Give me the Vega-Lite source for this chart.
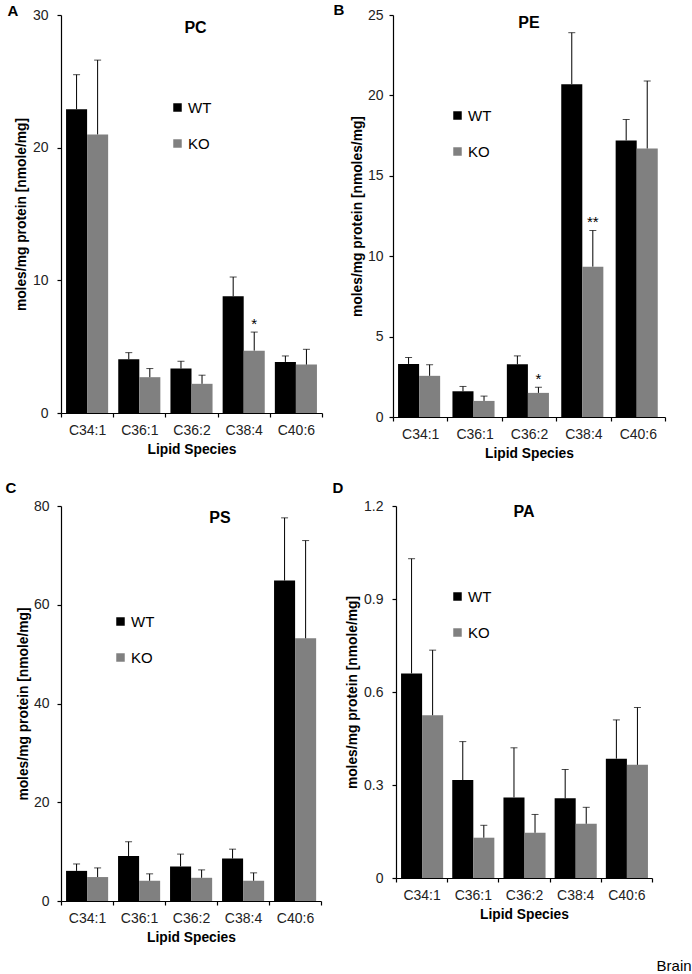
{
  "$schema": "https://vega.github.io/schema/vega-lite/v6.json",
  "background": "white",
  "padding": {"top": 3, "left": 5, "right": 0, "bottom": 0},
  "data": {"values": [
    {"panel": "PC", "species": "C34:1", "genotype": "WT", "value": 22.9, "err": 25.5, "sig": ""},
    {"panel": "PC", "species": "C34:1", "genotype": "KO", "value": 21.0, "err": 26.6, "sig": ""},
    {"panel": "PC", "species": "C36:1", "genotype": "WT", "value": 4.05, "err": 4.55, "sig": ""},
    {"panel": "PC", "species": "C36:1", "genotype": "KO", "value": 2.7, "err": 3.35, "sig": ""},
    {"panel": "PC", "species": "C36:2", "genotype": "WT", "value": 3.35, "err": 3.9, "sig": ""},
    {"panel": "PC", "species": "C36:2", "genotype": "KO", "value": 2.2, "err": 2.85, "sig": ""},
    {"panel": "PC", "species": "C38:4", "genotype": "WT", "value": 8.8, "err": 10.25, "sig": ""},
    {"panel": "PC", "species": "C38:4", "genotype": "KO", "value": 4.7, "err": 6.1, "sig": "*"},
    {"panel": "PC", "species": "C40:6", "genotype": "WT", "value": 3.85, "err": 4.3, "sig": ""},
    {"panel": "PC", "species": "C40:6", "genotype": "KO", "value": 3.65, "err": 4.8, "sig": ""},
    {"panel": "PE", "species": "C34:1", "genotype": "WT", "value": 3.3, "err": 3.7, "sig": ""},
    {"panel": "PE", "species": "C34:1", "genotype": "KO", "value": 2.56, "err": 3.25, "sig": ""},
    {"panel": "PE", "species": "C36:1", "genotype": "WT", "value": 1.6, "err": 1.9, "sig": ""},
    {"panel": "PE", "species": "C36:1", "genotype": "KO", "value": 1.0, "err": 1.3, "sig": ""},
    {"panel": "PE", "species": "C36:2", "genotype": "WT", "value": 3.28, "err": 3.8, "sig": ""},
    {"panel": "PE", "species": "C36:2", "genotype": "KO", "value": 1.5, "err": 1.85, "sig": "*"},
    {"panel": "PE", "species": "C38:4", "genotype": "WT", "value": 20.7, "err": 23.9, "sig": ""},
    {"panel": "PE", "species": "C38:4", "genotype": "KO", "value": 9.35, "err": 11.6, "sig": "**"},
    {"panel": "PE", "species": "C40:6", "genotype": "WT", "value": 17.2, "err": 18.5, "sig": ""},
    {"panel": "PE", "species": "C40:6", "genotype": "KO", "value": 16.7, "err": 20.9, "sig": ""},
    {"panel": "PS", "species": "C34:1", "genotype": "WT", "value": 6.1, "err": 7.5, "sig": ""},
    {"panel": "PS", "species": "C34:1", "genotype": "KO", "value": 4.85, "err": 6.7, "sig": ""},
    {"panel": "PS", "species": "C36:1", "genotype": "WT", "value": 9.1, "err": 12.0, "sig": ""},
    {"panel": "PS", "species": "C36:1", "genotype": "KO", "value": 4.1, "err": 5.5, "sig": ""},
    {"panel": "PS", "species": "C36:2", "genotype": "WT", "value": 7.0, "err": 9.5, "sig": ""},
    {"panel": "PS", "species": "C36:2", "genotype": "KO", "value": 4.7, "err": 6.3, "sig": ""},
    {"panel": "PS", "species": "C38:4", "genotype": "WT", "value": 8.6, "err": 10.5, "sig": ""},
    {"panel": "PS", "species": "C38:4", "genotype": "KO", "value": 4.1, "err": 5.7, "sig": ""},
    {"panel": "PS", "species": "C40:6", "genotype": "WT", "value": 64.9, "err": 77.6, "sig": ""},
    {"panel": "PS", "species": "C40:6", "genotype": "KO", "value": 53.2, "err": 73.0, "sig": ""},
    {"panel": "PA", "species": "C34:1", "genotype": "WT", "value": 0.66, "err": 1.03, "sig": ""},
    {"panel": "PA", "species": "C34:1", "genotype": "KO", "value": 0.525, "err": 0.735, "sig": ""},
    {"panel": "PA", "species": "C36:1", "genotype": "WT", "value": 0.316, "err": 0.44, "sig": ""},
    {"panel": "PA", "species": "C36:1", "genotype": "KO", "value": 0.13, "err": 0.17, "sig": ""},
    {"panel": "PA", "species": "C36:2", "genotype": "WT", "value": 0.26, "err": 0.42, "sig": ""},
    {"panel": "PA", "species": "C36:2", "genotype": "KO", "value": 0.146, "err": 0.205, "sig": ""},
    {"panel": "PA", "species": "C38:4", "genotype": "WT", "value": 0.257, "err": 0.35, "sig": ""},
    {"panel": "PA", "species": "C38:4", "genotype": "KO", "value": 0.175, "err": 0.228, "sig": ""},
    {"panel": "PA", "species": "C40:6", "genotype": "WT", "value": 0.385, "err": 0.51, "sig": ""},
    {"panel": "PA", "species": "C40:6", "genotype": "KO", "value": 0.365, "err": 0.55, "sig": ""}
  ]},
  "config": {
    "font": "Liberation Sans",
    "view": {"stroke": null},
    "axis": {"domainColor": "#000000", "tickColor": "#000000", "labelColor": "#222222", "labelFontSize": 14, "titleFontSize": 13.8, "titleFontWeight": "bold", "titleColor": "#000000", "grid": false, "tickSize": 4, "domainWidth": 1.2, "tickWidth": 1.2},
    "axisX": {"labelAngle": 0, "tickBand": "extent", "labelPadding": 6, "titlePadding": 5},
    "axisY": {"labelPadding": 8, "titlePadding": 4},
    "legend": {"orient": "none", "title": null, "symbolType": "square", "symbolSize": 72, "symbolStrokeWidth": 0, "labelFontSize": 15, "labelColor": "#000000", "rowPadding": 20, "labelOffset": 3, "padding": 0},
    "title": {"anchor": "start", "fontSize": 15, "fontWeight": "bold", "color": "#000000"}
  },
  "title": {"text": "Brain", "orient": "bottom", "anchor": "end", "fontSize": 15, "fontWeight": "normal", "offset": 15, "dx": 26},
  "spacing": 21,
  "resolve": {"scale": {"color": "independent", "x": "independent", "y": "independent"}, "legend": {"color": "independent"}},
  "vconcat": [
    {
      "spacing": 10,
      "resolve": {"scale": {"color": "independent", "x": "independent", "y": "independent"}, "legend": {"color": "independent"}},
      "hconcat": [
        {
          "width": 261, "height": 398,
          "title": {"text": "A", "dx": -7, "offset": -11},
          "transform": [{"filter": "datum.panel == 'PC'"}],
          "layer": [
            {"mark": {"type": "bar"},
             "encoding": {
               "x": {"field": "species", "type": "nominal", "title": "Lipid Species", "scale": {"paddingInner": 0, "paddingOuter": 0}},
               "xOffset": {"field": "genotype", "type": "nominal", "sort": ["WT", "KO"], "scale": {"paddingInner": 0, "paddingOuter": 0.24}},
               "y": {"field": "value", "type": "quantitative", "title": "moles/mg protein [nmole/mg]", "scale": {"domain": [0, 30], "nice": false}, "axis": {"values": [0, 10, 20, 30], "labelPadding": 9, "titlePadding": 4}},
               "color": {"field": "genotype", "type": "nominal", "sort": ["WT", "KO"], "scale": {"domain": ["WT", "KO"], "range": ["#000000", "#808080"]}, "legend": {"legendX": 109, "legendY": 85}}
             }},
            {"mark": {"type": "rule", "color": "#000000", "strokeWidth": 1},
             "encoding": {
               "x": {"field": "species", "type": "nominal", "title": "Lipid Species"},
               "xOffset": {"field": "genotype", "type": "nominal", "sort": ["WT", "KO"]},
               "y": {"field": "value", "type": "quantitative", "title": "moles/mg protein [nmole/mg]"},
               "y2": {"field": "err"}
             }},
            {"mark": {"type": "tick", "color": "#000000", "thickness": 1, "size": 7},
             "encoding": {
               "x": {"field": "species", "type": "nominal", "title": "Lipid Species"},
               "xOffset": {"field": "genotype", "type": "nominal", "sort": ["WT", "KO"]},
               "y": {"field": "err", "type": "quantitative", "title": "moles/mg protein [nmole/mg]"}
             }},
            {"transform": [{"filter": "datum.sig != ''"}],
             "mark": {"type": "text", "fontSize": 15, "dy": -3, "baseline": "alphabetic", "color": "#000000"},
             "encoding": {
               "x": {"field": "species", "type": "nominal", "title": "Lipid Species"},
               "xOffset": {"field": "genotype", "type": "nominal", "sort": ["WT", "KO"]},
               "y": {"field": "err", "type": "quantitative", "title": "moles/mg protein [nmole/mg]"},
               "text": {"field": "sig"}
             }},
            {"transform": [{"filter": "datum.species == 'C36:2' && datum.genotype == 'WT'"}],
             "mark": {"type": "text", "fontSize": 16, "fontWeight": "bold", "baseline": "middle", "color": "#000000", "dx": 4},
             "encoding": {
               "x": {"field": "species", "type": "nominal", "title": "Lipid Species"},
               "y": {"datum": 29},
               "text": {"field": "panel"}
             }}
          ]
        },
        {
          "width": 272, "height": 402,
          "title": {"text": "B", "dx": -17, "offset": -10},
          "transform": [{"filter": "datum.panel == 'PE'"}],
          "layer": [
            {"mark": {"type": "bar"},
             "encoding": {
               "x": {"field": "species", "type": "nominal", "title": "Lipid Species", "scale": {"paddingInner": 0, "paddingOuter": 0}},
               "xOffset": {"field": "genotype", "type": "nominal", "sort": ["WT", "KO"], "scale": {"paddingInner": 0, "paddingOuter": 0.24}},
               "y": {"field": "value", "type": "quantitative", "title": "moles/mg protein [nmoles/mg]", "scale": {"domain": [0, 25], "nice": false}, "axis": {"values": [0, 5, 10, 15, 20, 25], "labelPadding": 6, "titlePadding": 3}},
               "color": {"field": "genotype", "type": "nominal", "sort": ["WT", "KO"], "scale": {"domain": ["WT", "KO"], "range": ["#000000", "#808080"]}, "legend": {"legendX": 57, "legendY": 93}}
             }},
            {"mark": {"type": "rule", "color": "#000000", "strokeWidth": 1},
             "encoding": {
               "x": {"field": "species", "type": "nominal", "title": "Lipid Species"},
               "xOffset": {"field": "genotype", "type": "nominal", "sort": ["WT", "KO"]},
               "y": {"field": "value", "type": "quantitative", "title": "moles/mg protein [nmoles/mg]"},
               "y2": {"field": "err"}
             }},
            {"mark": {"type": "tick", "color": "#000000", "thickness": 1, "size": 7},
             "encoding": {
               "x": {"field": "species", "type": "nominal", "title": "Lipid Species"},
               "xOffset": {"field": "genotype", "type": "nominal", "sort": ["WT", "KO"]},
               "y": {"field": "err", "type": "quantitative", "title": "moles/mg protein [nmoles/mg]"}
             }},
            {"transform": [{"filter": "datum.sig != ''"}],
             "mark": {"type": "text", "fontSize": 15, "dy": -3, "baseline": "alphabetic", "color": "#000000"},
             "encoding": {
               "x": {"field": "species", "type": "nominal", "title": "Lipid Species"},
               "xOffset": {"field": "genotype", "type": "nominal", "sort": ["WT", "KO"]},
               "y": {"field": "err", "type": "quantitative", "title": "moles/mg protein [nmoles/mg]"},
               "text": {"field": "sig"}
             }},
            {"transform": [{"filter": "datum.species == 'C36:2' && datum.genotype == 'WT'"}],
             "mark": {"type": "text", "fontSize": 16, "fontWeight": "bold", "baseline": "middle", "color": "#000000"},
             "encoding": {
               "x": {"field": "species", "type": "nominal", "title": "Lipid Species"},
               "y": {"datum": 24.5},
               "text": {"field": "panel"}
             }}
          ]
        }
      ]
    },
    {
      "spacing": 10,
      "resolve": {"scale": {"color": "independent", "x": "independent", "y": "independent"}, "legend": {"color": "independent"}},
      "hconcat": [
        {
          "width": 260, "height": 395,
          "title": {"text": "C", "dx": -11, "offset": 3},
          "transform": [{"filter": "datum.panel == 'PS'"}],
          "layer": [
            {"mark": {"type": "bar"},
             "encoding": {
               "x": {"field": "species", "type": "nominal", "title": "Lipid Species", "scale": {"paddingInner": 0, "paddingOuter": 0}},
               "xOffset": {"field": "genotype", "type": "nominal", "sort": ["WT", "KO"], "scale": {"paddingInner": 0, "paddingOuter": 0.24}},
               "y": {"field": "value", "type": "quantitative", "title": "moles/mg protein [nmole/mg]", "scale": {"domain": [0, 80], "nice": false}, "axis": {"values": [0, 20, 40, 60, 80], "labelPadding": 8, "titlePadding": 3}},
               "color": {"field": "genotype", "type": "nominal", "sort": ["WT", "KO"], "scale": {"domain": ["WT", "KO"], "range": ["#000000", "#808080"]}, "legend": {"legendX": 52, "legendY": 108}}
             }},
            {"mark": {"type": "rule", "color": "#000000", "strokeWidth": 1},
             "encoding": {
               "x": {"field": "species", "type": "nominal", "title": "Lipid Species"},
               "xOffset": {"field": "genotype", "type": "nominal", "sort": ["WT", "KO"]},
               "y": {"field": "value", "type": "quantitative", "title": "moles/mg protein [nmole/mg]"},
               "y2": {"field": "err"}
             }},
            {"mark": {"type": "tick", "color": "#000000", "thickness": 1, "size": 7},
             "encoding": {
               "x": {"field": "species", "type": "nominal", "title": "Lipid Species"},
               "xOffset": {"field": "genotype", "type": "nominal", "sort": ["WT", "KO"]},
               "y": {"field": "err", "type": "quantitative", "title": "moles/mg protein [nmole/mg]"}
             }},
            {"transform": [{"filter": "datum.species == 'C36:2' && datum.genotype == 'WT'"}],
             "mark": {"type": "text", "fontSize": 16, "fontWeight": "bold", "baseline": "middle", "color": "#000000", "dx": 29},
             "encoding": {
               "x": {"field": "species", "type": "nominal", "title": "Lipid Species"},
               "y": {"datum": 77.5},
               "text": {"field": "panel"}
             }}
          ]
        },
        {
          "width": 256, "height": 372,
          "title": {"text": "D", "dx": -13, "offset": 3},
          "transform": [{"filter": "datum.panel == 'PA'"}],
          "layer": [
            {"mark": {"type": "bar"},
             "encoding": {
               "x": {"field": "species", "type": "nominal", "title": "Lipid Species", "scale": {"paddingInner": 0, "paddingOuter": 0}},
               "xOffset": {"field": "genotype", "type": "nominal", "sort": ["WT", "KO"], "scale": {"paddingInner": 0, "paddingOuter": 0.24}},
               "y": {"field": "value", "type": "quantitative", "title": "moles/mg protein [nmole/mg]", "scale": {"domain": [0, 1.2], "nice": false}, "axis": {"values": [0, 0.3, 0.6, 0.9, 1.2], "format": "~g", "labelPadding": 9, "titlePadding": 4}},
               "color": {"field": "genotype", "type": "nominal", "sort": ["WT", "KO"], "scale": {"domain": ["WT", "KO"], "range": ["#000000", "#808080"]}, "legend": {"legendX": 54, "legendY": 83}}
             }},
            {"mark": {"type": "rule", "color": "#000000", "strokeWidth": 1},
             "encoding": {
               "x": {"field": "species", "type": "nominal", "title": "Lipid Species"},
               "xOffset": {"field": "genotype", "type": "nominal", "sort": ["WT", "KO"]},
               "y": {"field": "value", "type": "quantitative", "title": "moles/mg protein [nmole/mg]"},
               "y2": {"field": "err"}
             }},
            {"mark": {"type": "tick", "color": "#000000", "thickness": 1, "size": 7},
             "encoding": {
               "x": {"field": "species", "type": "nominal", "title": "Lipid Species"},
               "xOffset": {"field": "genotype", "type": "nominal", "sort": ["WT", "KO"]},
               "y": {"field": "err", "type": "quantitative", "title": "moles/mg protein [nmole/mg]"}
             }},
            {"transform": [{"filter": "datum.species == 'C36:2' && datum.genotype == 'WT'"}],
             "mark": {"type": "text", "fontSize": 16, "fontWeight": "bold", "baseline": "middle", "color": "#000000"},
             "encoding": {
               "x": {"field": "species", "type": "nominal", "title": "Lipid Species"},
               "y": {"datum": 1.18},
               "text": {"field": "panel"}
             }}
          ]
        }
      ]
    }
  ]
}
